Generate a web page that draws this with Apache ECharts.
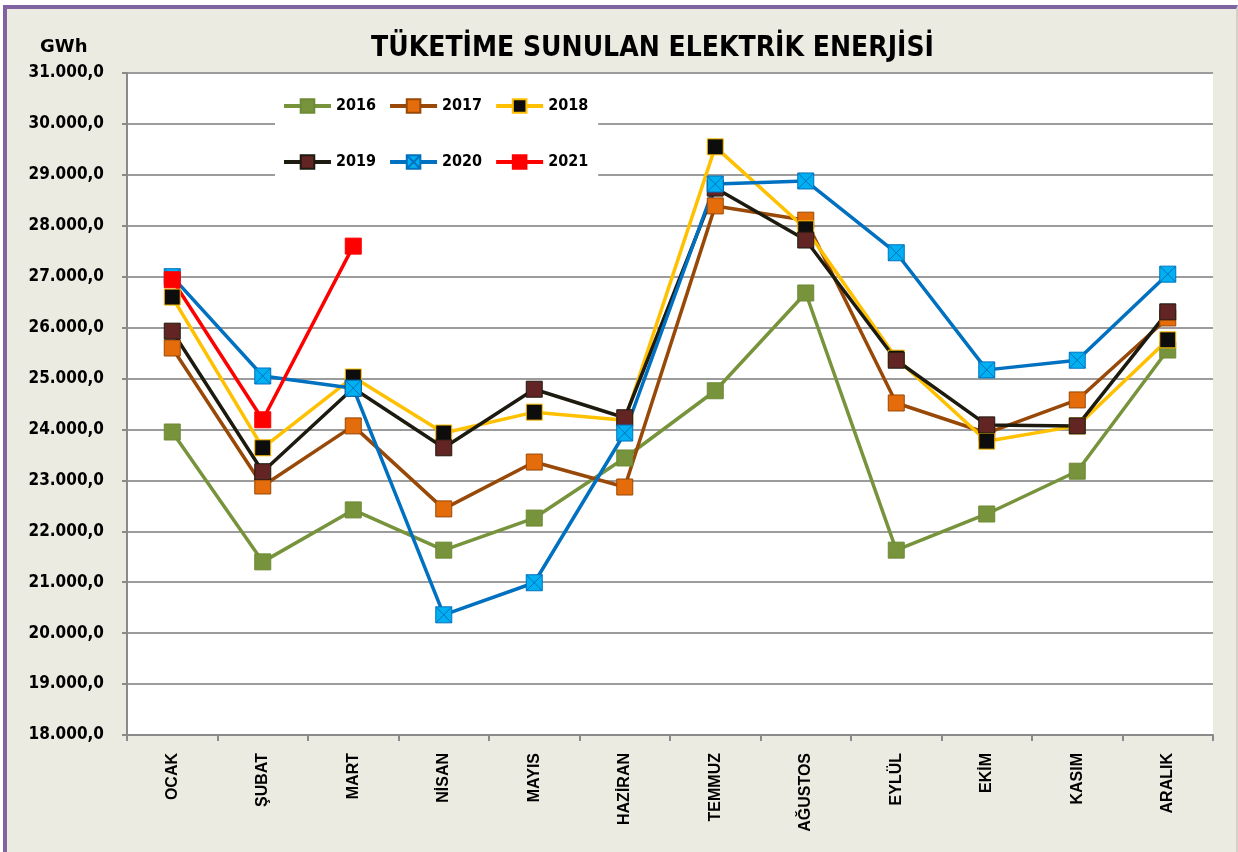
<!DOCTYPE html>
<html>
<head>
<meta charset="utf-8">
<script src="https://cdn.jsdelivr.net/npm/echarts@6/dist/echarts.min.js"></script>
<style>
  html, body { margin: 0; padding: 0; background: #fff; }
  .frame {
    position: absolute; left: 3px; top: 5px; width: 1235px; height: 847px;
    box-sizing: border-box;
    background: #ecebe1;
    border-top: 4px solid #8064a2;
    border-left: 4px solid #8064a2;
    border-right: 2px solid #d4d2c8;
  }
  #chart { position: absolute; left: 0; top: 0; width: 1238px; height: 852px; }
</style>
</head>
<body>
<div class="frame"></div>
<div id="chart"></div>
<script>
// aylar
var months = ['OCAK', 'ŞUBAT', 'MART', 'NİSAN', 'MAYIS', 'HAZİRAN', 'TEMMUZ', 'AĞUSTOS', 'EYLÜL', 'EKİM', 'KASIM', 'ARALIK']
// yillik tuketim (GWh)
var y2016 = [23950, 21400, 22420, 21630, 22260, 23440, 24760, 26680, 21630, 22340, 23180, 25560]
var y2017 = [25600, 22890, 24070, 22440, 23360, 22870, 28390, 28110, 24520, 23930, 24580, 26190]
var y2018 = [26600, 23640, 25030, 23930, 24340, 24180, 29550, 27940, 25400, 23770, 24070, 25760]
var y2019 = [25930, 23170, 24810, 23640, 24790, 24230, 28740, 27720, 25360, 24090, 24070, 26310]
var y2020 = [27000, 25050, 24810, 20360, 20990, 23930, 28820, 28880, 27470, 25170, 25360, 27050]
var y2021 = [26940, 24190, 27600, null, null, null, null, null, null, null, null, null]

var condFont = '"DejaVu Sans Condensed", "DejaVu Sans", sans-serif'
var crossBox = 'path://M0,0L10,0L10,10L0,10Z M0,0L10,10 M10,0L0,10'

function mkSeries (name, data, line, fill, border, symbol) {
  return {
    name: name,
    type: 'line',
    data: data,
    symbol: symbol || 'rect',
    symbolSize: 16,
    lineStyle: { color: line, width: 3.5 },
    itemStyle: { color: fill, borderColor: border, borderWidth: 1 },
    emphasis: { disabled: true },
    animation: false
  }
}

var chart = echarts.init(document.getElementById('chart'))
var legendText = { color: '#000', fontFamily: condFont, fontWeight: 'bold', fontSize: 16 }
var option = {
  backgroundColor: 'transparent',
  title: [
    {
      text: 'TÜKETİME SUNULAN ELEKTRİK ENERJİSİ',
      left: 366,
      top: 30,
      textStyle: { fontFamily: condFont, fontWeight: 'bold', fontSize: 28, color: '#000' }
    },
    {
      text: 'GWh',
      left: 35,
      top: 33,
      textStyle: { fontFamily: '"DejaVu Sans", sans-serif', fontWeight: 'bold', fontSize: 18, color: '#000' }
    }
  ],
  legend: [
    {
      data: ['2016', '2017', '2018'],
      left: 275,
      top: 86,
      itemWidth: 47,
      itemHeight: 17,
      itemGap: 12,
      padding: [12, 10, 12, 7],
      backgroundColor: '#fff',
      lineStyle: { width: 4 },
      textStyle: legendText
    },
    {
      data: ['2019', '2020', '2021'],
      left: 275,
      top: 142,
      itemWidth: 47,
      itemHeight: 17,
      itemGap: 12,
      padding: [12, 10, 12, 7],
      backgroundColor: '#fff',
      lineStyle: { width: 4 },
      textStyle: legendText
    }
  ],
  grid: {
    left: 127,
    top: 73,
    width: 1086,
    height: 662,
    show: true,
    backgroundColor: '#fff',
    borderWidth: 0
  },
  xAxis: {
    type: 'category',
    data: months,
    boundaryGap: true,
    axisLine: { lineStyle: { color: '#8a8a8a', width: 2 } },
    axisTick: { show: true, length: 6, lineStyle: { color: '#8a8a8a', width: 2 } },
    axisLabel: {
      rotate: 90,
      interval: 0,
      margin: 18,
      color: '#000',
      fontFamily: '"Liberation Sans", Arial, sans-serif',
      fontWeight: 'bold',
      fontSize: 16
    }
  },
  yAxis: {
    type: 'value',
    min: 18000,
    max: 31000,
    interval: 1000,
    axisLine: { show: true, lineStyle: { color: '#8a8a8a', width: 2 } },
    axisTick: { show: true, length: 5, lineStyle: { color: '#8a8a8a', width: 2 } },
    splitLine: { lineStyle: { color: '#9c9c9c', width: 2 } },
    axisLabel: {
      margin: 23,
      color: '#000',
      fontFamily: condFont,
      fontWeight: 'bold',
      fontSize: 17,
      formatter: function (v) {
        return (v / 1000).toFixed(3) + ',0'
      }
    }
  },
  series: [
    mkSeries('2016', y2016, '#77933c', '#77933c', '#6d8a34'),
    mkSeries('2017', y2017, '#984807', '#e46c0a', '#984807'),
    mkSeries('2018', y2018, '#ffc000', '#0d0d0d', '#ffc000'),
    mkSeries('2019', y2019, '#1d1b10', '#632523', '#1d1b10'),
    mkSeries('2020', y2020, '#0070c0', '#00b0f0', '#0070c0', crossBox),
    mkSeries('2021', y2021, '#ff0000', '#ff0000', '#ff0000')
  ]
}
chart.setOption(option)
</script>
</body>
</html>
